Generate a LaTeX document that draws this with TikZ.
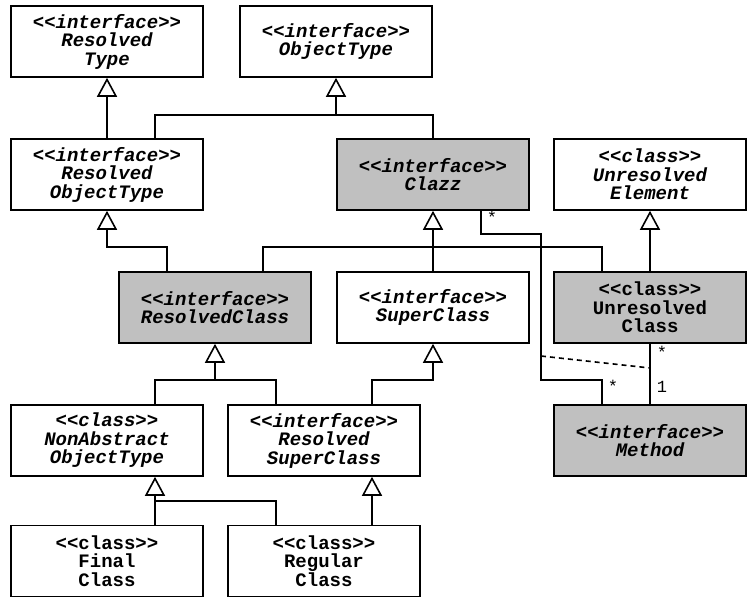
\documentclass[tikz,border=0pt]{standalone}
\usepackage{fontspec}
\setmonofont{Liberation Mono}
\usetikzlibrary{arrows.meta}
\definecolor{boxgray}{RGB}{192,192,192}
\newcommand{\boxfont}{\fontsize{19}{18.5}\selectfont\ttfamily\bfseries}
\begin{document}
\begin{tikzpicture}[x=1pt,y=-1pt,
  box/.style={draw, line width=1.6pt, minimum width=192pt, minimum height=71pt,
    inner sep=0pt, align=center, font=\boxfont, fill=white},
  ibox/.style={box, font=\boxfont\itshape},
  gray/.style={fill=boxgray},
  ln/.style={line width=1.6pt},
  inh/.style={ln, -{Triangle[length=19pt, width=20pt, fill=white]}},
  lbl/.style={font=\fontsize{17}{17}\selectfont\ttfamily, inner sep=0pt, anchor=base}
]
\useasboundingbox (0,0) rectangle (752,600);

% row 1
\node[ibox] (RT) at (107,41.5) {<<interface>>\\Resolved\\Type};
\node[ibox] (OT) at (336,41.5) {<<interface>>\\ObjectType};
% row 2
\node[ibox] (ROT) at (107,174.5) {<<interface>>\\Resolved\\ObjectType};
\node[ibox, gray] (CZ) at (433,174.5) {<<interface>>\\Clazz};
\node[ibox] (UE) at (650,174.5) {<<class>>\\Unresolved\\Element};
% row 3
\node[ibox, gray] (RC) at (215,307.5) {<<interface>>\\ResolvedClass};
\node[ibox] (SC) at (433,307.5) {<<interface>>\\SuperClass};
\node[box, gray] (UC) at (650,307.5) {<<class>>\\Unresolved\\Class};
% row 4
\node[ibox] (NA) at (107,440.5) {<<class>>\\NonAbstract\\ObjectType};
\node[ibox] (RSC) at (324,440.5) {<<interface>>\\Resolved\\SuperClass};
\node[ibox, gray] (ME) at (650,440.5) {<<interface>>\\Method};
% row 5
\node[box] (FC) at (107,561) {<<class>>\\Final\\Class};
\node[box] (RG) at (324,561) {<<class>>\\Regular\\Class};

% junctions
\coordinate (j1) at (336,115);
\coordinate (j2) at (107,247);
\coordinate (j3) at (433,247);
\coordinate (j4) at (215,380);
\coordinate (j5) at (433,380);
\coordinate (j6) at (155,501);
\coordinate (a1) at (541,234);
\coordinate (a2) at (541,380);
\coordinate (d1) at (541,356);
\coordinate (d2) at (650,368);

% generalizations
\draw[inh] (ROT.north) -- (RT.south);
\draw[inh] ([xshift=48pt]ROT.north) |- (j1) -- (OT.south);
\draw[ln] (CZ.north) |- (j1);
\draw[inh] ([xshift=-48pt]RC.north) |- (j2) -- (ROT.south);
\draw[inh] (SC.north) -- (CZ.south);
\draw[ln] ([xshift=48pt]RC.north) |- (j3);
\draw[ln] ([xshift=-48pt]UC.north) |- (j3);
\draw[inh] (UC.north) -- (UE.south);
\draw[inh] ([xshift=48pt]NA.north) |- (j4) -- (RC.south);
\draw[ln] ([xshift=-48pt]RSC.north) |- (j4);
\draw[inh] ([xshift=48pt]RSC.north) |- (j5) -- (SC.south);
\draw[inh] ([xshift=48pt]FC.north) -- ([xshift=48pt]NA.south);
\draw[ln] ([xshift=-48pt]RG.north) |- (j6);
\draw[inh] ([xshift=48pt]RG.north) -- ([xshift=48pt]RSC.south);

% associations
\draw[ln] ([xshift=48pt]CZ.south) |- (a1) -- (a2) -| ([xshift=-48pt]ME.north);
\draw[ln] (UC.south) -- (ME.north);
\draw[ln, dash pattern=on 5pt off 4pt] (d1) -- (d2);

% multiplicities
\node[lbl] (m1) at (492,223) {*};
\node[lbl] (m2) at (613,392) {*};
\node[lbl] (m3) at (662,358) {*};
\node[lbl] (m4) at (662,392) {1};
\end{tikzpicture}
\end{document}
